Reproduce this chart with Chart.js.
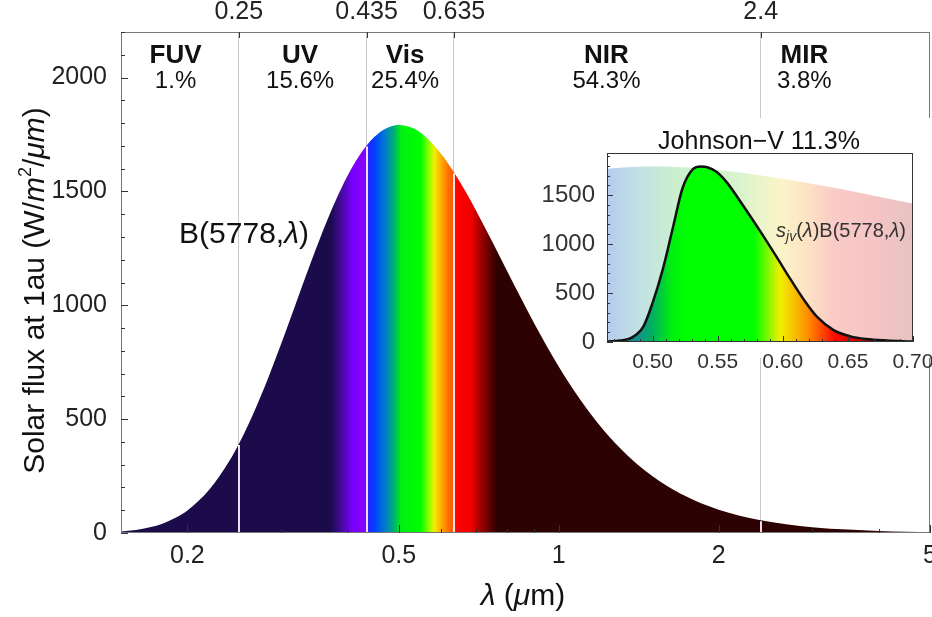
<!DOCTYPE html>
<html>
<head>
<meta charset="utf-8">
<script src="https://cdn.jsdelivr.net/npm/chart.js@4.4.1/dist/chart.umd.min.js"></script>
<style>
html, body { margin: 0; padding: 0; background: #fff; }
#wrap { position: relative; width: 932px; height: 617px; overflow: hidden; }
#main { position: absolute; left: 0; top: 0; }
#inset { position: absolute; left: 540px; top: 118px; }
</style>
</head>
<body>
<div id="wrap">
  <canvas id="main" width="932" height="617"></canvas>
  <canvas id="inset" width="392" height="250"></canvas>
</div>
<script>
// Solar spectrum at 1 au (blackbody 5778 K), wavelength in micron
const wavelength = [0.15, 0.16, 0.17, 0.18, 0.19, 0.2, 0.22, 0.24, 0.25, 0.26, 0.28, 0.3, 0.32, 0.34, 0.36,
  0.38, 0.4, 0.42, 0.435, 0.45, 0.47, 0.5, 0.53, 0.56, 0.6, 0.635, 0.67, 0.7, 0.75, 0.8, 0.85, 0.9,
  1.0, 1.1, 1.2, 1.3, 1.4, 1.5, 1.6, 1.8, 2.0, 2.2, 2.4, 2.7, 3.0, 3.5, 4.0, 4.5, 5.0];
const solarFlux = [6.6, 13.4, 24.8, 42.0, 66.5, 99.0, 190.6, 316.8, 391.3, 471.8, 645.6, 827.3, 1006.7, 1175.4, 1327.2,
  1458.1, 1566.7, 1652.3, 1702.0, 1739.6, 1773.2, 1792.0, 1779.0, 1742.2, 1666.4, 1584.1, 1493.9, 1413.2, 1278.8, 1149.6, 1029.3, 919.3,
  731.5, 583.0, 466.9, 376.4, 305.7, 250.2, 206.3, 143.3, 102.2, 74.7, 55.8, 37.2, 25.7, 14.9, 9.2, 5.9, 4.0];

const bandNames = ['FUV', 'UV', 'Vis', 'NIR', 'MIR'];
const bandShares = ['1.%', '15.6%', '25.4%', '54.3%', '3.8%'];
const bandEdges = [0.25, 0.435, 0.635, 2.4];
const bandLabelAt = [0.19, 0.326, 0.514, 1.23, 2.9];

const xTicks = [0.2, 0.5, 1, 2, 5];
const yTicks = [0, 500, 1000, 1500, 2000];

// inset: Johnson-V band
const insetWavelength = [0.465, 0.47, 0.485, 0.5, 0.515, 0.53, 0.545, 0.56, 0.58, 0.6, 0.635, 0.65, 0.67, 0.685, 0.7];
const insetBlackbody = [1766.5, 1773.2, 1787.1, 1792.0, 1788.9, 1779.0, 1763.1, 1742.2, 1707.4, 1666.4, 1584.1, 1546.2, 1493.9, 1453.6, 1413.2];
const vBandWavelength = [0.465, 0.475, 0.484, 0.493, 0.5, 0.508, 0.516, 0.523, 0.531, 0.537, 0.542, 0.549, 0.557,
  0.57, 0.583, 0.595, 0.606, 0.616, 0.626, 0.639, 0.652, 0.664, 0.68, 0.698, 0.7];
const vBandFlux = [5, 15, 45, 160, 400, 750, 1190, 1570, 1765, 1792, 1785, 1738, 1630,
  1384, 1125, 874, 639, 435, 262, 122, 57, 30, 15, 6, 5];
const insetXTicks = [0.5, 0.55, 0.6, 0.65, 0.7];
const insetYTicks = [0, 500, 1000, 1500];

// colour stops (wavelength -> colour)
const spectrumStops = [
  [0.15, '#1b0b4b'], [0.372, '#1b0b4b'], [0.392, '#4a0aa8'], [0.41, '#7a00ff'], [0.433, '#8a00ff'],
  [0.437, '#2a20ff'], [0.45, '#0040ff'], [0.47, '#0078d0'], [0.49, '#00b070'], [0.505, '#00f010'],
  [0.55, '#00ff00'], [0.568, '#80ff00'], [0.583, '#f0ef00'], [0.6, '#ffb000'], [0.62, '#ff7000'],
  [0.633, '#ff5a00'], [0.637, '#ff1000'], [0.645, '#ff0000'], [0.685, '#f00000'], [0.72, '#900000'],
  [0.765, '#2c0202'], [5, '#2c0202']
];
const paleStops = [
  [0.465, '#b6cbee'], [0.49, '#c2e2e4'], [0.52, '#ccf0cc'], [0.565, '#d8f4cc'], [0.598, '#fbf4c8'],
  [0.619, '#fde2c4'], [0.64, '#f9cac6'], [0.675, '#f4c4c4'], [0.7, '#e6c2c2']
];
const vividStops = [
  [0.465, '#2a5fa0'], [0.485, '#1a8898'], [0.5, '#00b060'], [0.515, '#00f010'], [0.525, '#00ff00'],
  [0.578, '#00ff00'], [0.598, '#f0f000'], [0.619, '#ff9000'], [0.639, '#ff1000'], [0.655, '#d00000'], [0.7, '#800000']
];

const FONT = '"Liberation Sans", Arial, sans-serif';
const f = (size, style) => (style ? style + ' ' : '') + size + 'px ' + FONT;

function gradientFor(chart, stops) {
  const area = chart.chartArea;
  if (!area) return '#888';
  const sx = chart.scales.x;
  const g = chart.ctx.createLinearGradient(area.left, 0, area.right, 0);
  stops.forEach(([w, col]) => {
    let p = (sx.getPixelForValue(w) - area.left) / (area.right - area.left);
    g.addColorStop(Math.min(1, Math.max(0, p)), col);
  });
  return g;
}

function drawRuns(c, runs, x, y, align) {
  let total = 0;
  runs.forEach(r => { c.font = r.font; r.w = c.measureText(r.t).width; total += r.w; });
  let cx = align === 'center' ? x - total / 2 : (align === 'right' ? x - total : x);
  c.textAlign = 'left';
  c.textBaseline = 'alphabetic';
  runs.forEach(r => { c.font = r.font; c.fillText(r.t, cx, y + (r.dy || 0)); cx += r.w; });
}

const mainDecor = {
  id: 'mainDecor',
  afterDraw(chart) {
    const c = chart.ctx, a = chart.chartArea;
    const sx = chart.scales.x, sy = chart.scales.y;
    const meta = chart.getDatasetMeta(0);
    c.save();
    // band edges inside the filled area
    c.strokeStyle = 'rgba(255,240,255,0.92)';
    c.lineWidth = 2;
    bandEdges.forEach(e => {
      const i = wavelength.indexOf(e);
      const px = Math.round(sx.getPixelForValue(e));
      c.beginPath();
      c.moveTo(px, meta.data[i].y + 1);
      c.lineTo(px, a.bottom);
      c.stroke();
    });
    // frame
    c.strokeStyle = '#777';
    c.lineWidth = 1;
    c.strokeRect(a.left + 0.5, a.top + 0.5, a.right - a.left - 1, a.bottom - a.top - 1);
    // ticks
    c.strokeStyle = '#333';
    c.beginPath();
    for (let v = 0; v <= 2200; v += 100) {
      const py = Math.round(sy.getPixelForValue(v)) + 0.5;
      c.moveTo(a.left, py);
      c.lineTo(a.left + (v % 500 === 0 ? 7 : 4), py);
    }
    [0.2, 0.3, 0.4, 0.5, 0.6, 0.7, 0.8, 0.9, 1, 2, 3, 4, 5].forEach(v => {
      const px = Math.round(sx.getPixelForValue(v)) + 0.5;
      c.moveTo(px, a.bottom);
      c.lineTo(px, a.bottom - (xTicks.includes(v) ? 8 : 4));
    });
    bandEdges.forEach(e => {
      const px = Math.round(sx.getPixelForValue(e)) + 0.5;
      c.moveTo(px, a.top);
      c.lineTo(px, a.top + 6);
    });
    c.stroke();
    // band names and shares
    c.fillStyle = '#111';
    bandNames.forEach((n, i) => {
      const px = sx.getPixelForValue(bandLabelAt[i]);
      drawRuns(c, [{ t: n, font: f(26, 'bold') }], px, 63, 'center');
      drawRuns(c, [{ t: bandShares[i], font: f(24) }], px, 88, 'center');
    });
    // curve label
    drawRuns(c, [{ t: 'B(5778,', font: f(30) }, { t: 'λ', font: f(30, 'italic') }, { t: ')', font: f(30) }], 244, 243, 'center');
    // x title
    drawRuns(c, [{ t: 'λ', font: f(30, 'italic') }, { t: ' (', font: f(30) }, { t: 'μ', font: f(30, 'italic') }, { t: 'm)', font: f(30) }], 523, 605, 'center');
    // y title
    c.translate(44, (a.top + a.bottom) / 2 + 8);
    c.rotate(-Math.PI / 2);
    drawRuns(c, [
      { t: 'Solar flux at 1au (W/', font: f(30) },
      { t: 'm', font: f(30, 'italic') },
      { t: '2', font: f(18), dy: -13 },
      { t: '/', font: f(30) },
      { t: 'μm', font: f(30, 'italic') },
      { t: ')', font: f(30) }
    ], 0, 0, 'center');
    c.restore();
  }
};

new Chart(document.getElementById('main'), {
  type: 'line',
  data: {
    datasets: [{
      data: wavelength.map((w, i) => ({ x: w, y: solarFlux[i] })),
      fill: 'origin',
      backgroundColor: ctx => gradientFor(ctx.chart, spectrumStops),
      borderWidth: 0,
      pointRadius: 0,
      cubicInterpolationMode: 'monotone'
    }]
  },
  options: {
    responsive: false,
    animation: false,
    events: [],
    layout: { padding: { left: 0, right: 2, top: 0, bottom: 0 } },
    plugins: { legend: { display: false }, tooltip: { enabled: false } },
    scales: {
      x: {
        type: 'logarithmic', position: 'bottom', min: 0.15, max: 5,
        afterBuildTicks: s => { s.ticks = xTicks.map(v => ({ value: v })); },
        afterFit: s => { s.height = 84; s.paddingLeft = 0; s.paddingRight = 0; },
        grid: { display: false }, border: { display: false },
        ticks: { autoSkip: false, maxRotation: 0, padding: 0, color: '#222', font: { family: FONT, size: 25 }, callback: v => String(v) }
      },
      x2: {
        type: 'logarithmic', position: 'top', min: 0.15, max: 5,
        afterBuildTicks: s => { s.ticks = bandEdges.map(v => ({ value: v })); },
        afterFit: s => { s.height = 32; s.paddingLeft = 0; s.paddingRight = 0; },
        grid: { display: true, drawTicks: false, color: '#c8c8c8', lineWidth: 1 }, border: { display: false },
        ticks: { autoSkip: false, maxRotation: 0, padding: 5, color: '#222', font: { family: FONT, size: 25 }, callback: v => String(v) }
      },
      y: {
        min: 0, max: 2200,
        afterBuildTicks: s => { s.ticks = yTicks.map(v => ({ value: v })); },
        afterFit: s => { s.width = 121; s.paddingTop = 0; s.paddingBottom = 0; },
        grid: { display: false }, border: { display: false },
        ticks: { padding: 6, color: '#222', font: { family: FONT, size: 25 }, callback: v => String(v) }
      }
    }
  },
  plugins: [mainDecor]
});

const insetDecor = {
  id: 'insetDecor',
  beforeDraw(chart) {
    const c = chart.ctx, a = chart.chartArea;
    c.save();
    c.fillStyle = '#fff';
    c.fillRect(a.left - 4, 0, chart.width - a.left + 4, a.bottom + 16);
    c.restore();
  },
  afterDraw(chart) {
    const c = chart.ctx, a = chart.chartArea;
    const sx = chart.scales.x, sy = chart.scales.y;
    c.save();
    c.strokeStyle = '#333';
    c.lineWidth = 1;
    c.strokeRect(a.left + 0.5, a.top + 0.5, a.right - a.left - 1, a.bottom - a.top - 1);
    c.beginPath();
    for (let v = 0; v <= 1900; v += 100) {
      const py = Math.round(sy.getPixelForValue(v)) + 0.5;
      c.moveTo(a.left, py);
      c.lineTo(a.left + (v % 500 === 0 ? 6 : 3), py);
    }
    for (let k = 47; k <= 70; k++) {
      const v = k / 100;
      const px = Math.round(sx.getPixelForValue(v)) + 0.5;
      c.moveTo(px, a.bottom);
      c.lineTo(px, a.bottom - (k % 5 === 0 ? 6 : 3));
    }
    c.stroke();
    c.fillStyle = '#111';
    drawRuns(c, [{ t: 'Johnson−V 11.3%', font: f(25) }], 219, 31, 'center');
    c.fillStyle = '#333';
    drawRuns(c, [
      { t: 's', font: f(20, 'italic') },
      { t: 'jv', font: f(14, 'italic'), dy: 4 },
      { t: '(', font: f(20) },
      { t: 'λ', font: f(20, 'italic') },
      { t: ')B(5778,', font: f(20) },
      { t: 'λ', font: f(20, 'italic') },
      { t: ')', font: f(20) }
    ], 301, 119, 'center');
    c.restore();
  }
};

new Chart(document.getElementById('inset'), {
  type: 'line',
  data: {
    datasets: [{
      data: vBandWavelength.map((w, i) => ({ x: w, y: vBandFlux[i] })),
      fill: 'origin',
      backgroundColor: ctx => gradientFor(ctx.chart, vividStops),
      borderColor: '#111',
      borderWidth: 2.5,
      pointRadius: 0,
      cubicInterpolationMode: 'monotone'
    }, {
      data: insetWavelength.map((w, i) => ({ x: w, y: insetBlackbody[i] })),
      fill: 'origin',
      backgroundColor: ctx => gradientFor(ctx.chart, paleStops),
      borderWidth: 0,
      pointRadius: 0,
      cubicInterpolationMode: 'monotone'
    }]
  },
  options: {
    responsive: false,
    animation: false,
    events: [],
    layout: { padding: { left: 0, right: 19, top: 35, bottom: 0 } },
    plugins: { legend: { display: false }, tooltip: { enabled: false } },
    scales: {
      x: {
        type: 'linear', min: 0.465, max: 0.7,
        afterBuildTicks: s => { s.ticks = insetXTicks.map(v => ({ value: v })); },
        afterFit: s => { s.height = 26; s.paddingLeft = 0; s.paddingRight = 0; },
        grid: { display: false }, border: { display: false },
        ticks: { autoSkip: false, maxRotation: 0, padding: 0, color: '#333', font: { family: FONT, size: 21 }, callback: v => v.toFixed(2) }
      },
      y: {
        min: 0, max: 1930,
        afterBuildTicks: s => { s.ticks = insetYTicks.map(v => ({ value: v })); },
        afterFit: s => { s.width = 67; s.paddingTop = 0; s.paddingBottom = 0; },
        grid: { display: false }, border: { display: false },
        ticks: { padding: 4, color: '#333', font: { family: FONT, size: 24 }, callback: v => String(v) }
      }
    }
  },
  plugins: [insetDecor]
});
</script>
</body>
</html>
